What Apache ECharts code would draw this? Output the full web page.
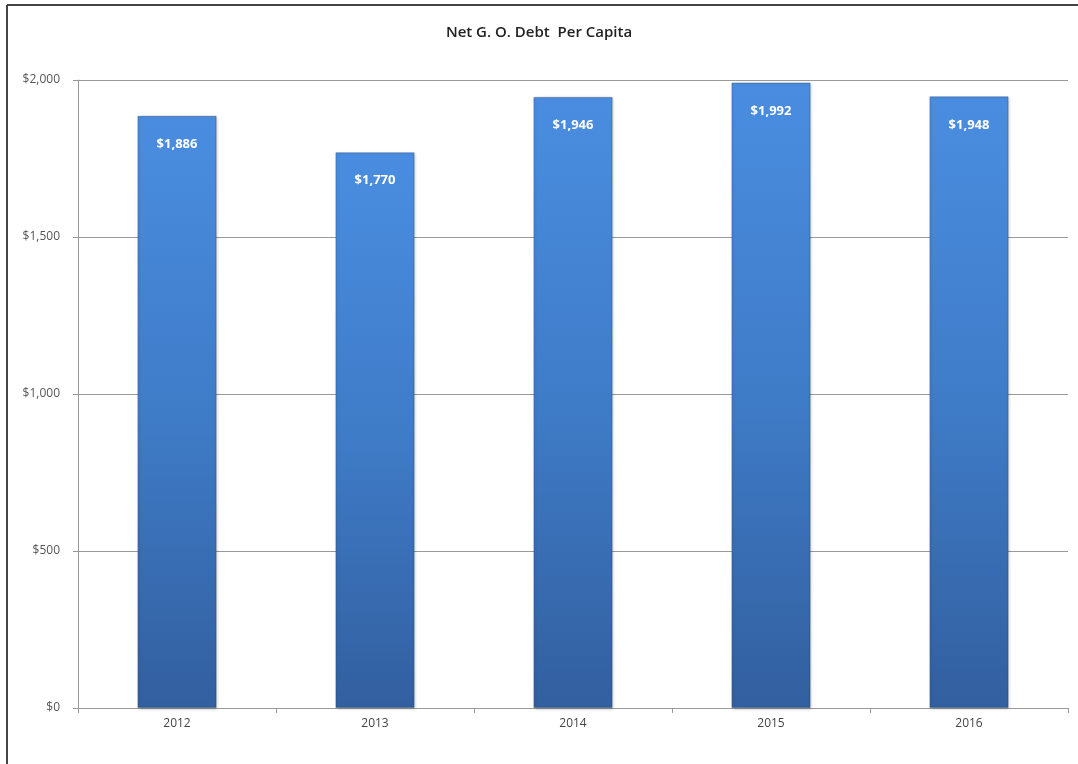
<!DOCTYPE html>
<html><head><meta charset="utf-8">
<script src="https://cdn.jsdelivr.net/npm/echarts@6/dist/echarts.min.js"></script>
<style>html,body{margin:0;padding:0;background:#fff}#c{width:1078px;height:764px}</style>
</head><body><div id="c"></div>
<script>
const titleText = 'Net G. O. Debt  Per Capita';
const categories = ['2012', '2013', '2014', '2015', '2016'];
const values = [1886, 1770, 1946, 1992, 1948];
const yTicks = [0, 500, 1000, 1500, 2000];

const chart = echarts.init(document.getElementById('c'));
const fmt = v => '$' + v.toLocaleString('en-US');
chart.setOption({
  animation: false,
  backgroundColor: '#fff',
  title: {
    text: titleText, left: 'center', top: 20,
    textStyle: { fontFamily: 'Open Sans', fontSize: 15, fontWeight: 600, color: '#222' }
  },
  grid: { left: 78, right: 10, top: 80, bottom: 56, containLabel: false },
  xAxis: {
    type: 'category', data: categories,
    axisLine: { lineStyle: { color: '#999' } },
    axisTick: { show: true, alignWithLabel: false, length: 5, lineStyle: { color: '#999' } },
    axisLabel: { color: '#444', fontFamily: 'Open Sans', fontSize: 12, margin: 10 }
  },
  yAxis: {
    type: 'value', min: yTicks[0], max: yTicks[yTicks.length - 1], interval: 500,
    axisLine: { show: true, lineStyle: { color: '#999' } },
    axisTick: { show: true, length: 5, lineStyle: { color: '#999' } },
    axisLabel: { color: '#555', fontFamily: 'Open Sans', fontSize: 12, margin: 18, formatter: fmt },
    splitLine: { lineStyle: { color: '#9a9a9a', width: 1 } }
  },
  series: [{
    type: 'bar', data: values, barWidth: '40%',
    itemStyle: {
      color: new echarts.graphic.LinearGradient(0, 0, 0, 1, [
        { offset: 0, color: '#4a8de0' },
        { offset: 0.5, color: '#3f7cc8' },
        { offset: 1, color: '#325f9f' }
      ]),
      borderColor: 'rgba(30,60,110,0.35)', borderWidth: 1,
      shadowColor: 'rgba(0,0,0,0.25)', shadowBlur: 3, shadowOffsetX: 1, shadowOffsetY: 1
    },
    label: {
      show: true, position: 'insideTop', distance: 22, color: '#fff',
      fontFamily: 'Open Sans', fontWeight: 'bold', fontSize: 13,
      formatter: p => fmt(p.value)
    }
  }],
  graphic: [
    { type: 'line', shape: { x1: 7, y1: 5, x2: 1078, y2: 5 }, style: { stroke: '#444', lineWidth: 2 } },
    { type: 'line', shape: { x1: 7, y1: 5, x2: 7, y2: 764 }, style: { stroke: '#444', lineWidth: 2 } }
  ]
});
</script></body></html>
